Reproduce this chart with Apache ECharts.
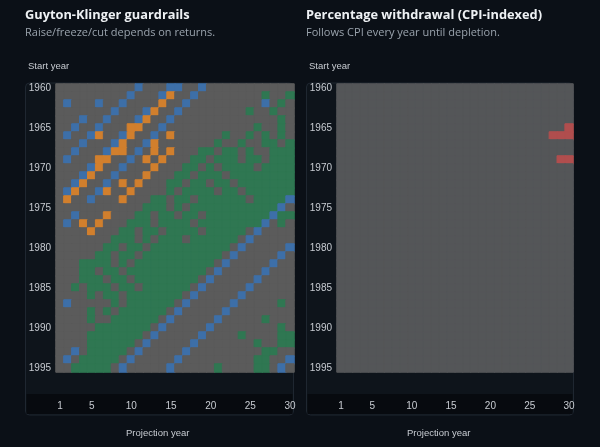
<!DOCTYPE html>
<html><head><meta charset="utf-8">
<script src="https://cdn.jsdelivr.net/npm/echarts@6/dist/echarts.min.js"></script>
<style>html,body{margin:0;padding:0;background:#0b1017;}#c{width:600px;height:447px;}</style>
</head><body><div id="c"></div>
<script>
const years = []; for (let y = 1960; y <= 1995; y++) years.push(String(y));
const projYears = []; for (let i = 1; i <= 30; i++) projYears.push(String(i));
// Left panel cell states per start-year row: list of columns for each state
const gkBlue = [[11,15,16,19],[10,14,18],[2,6,9,17,27],[8,12,16],[4,7,11,15],[3,6,14],[2,5,9,13],[4,8,12],[3,7,11],[2,10],[5,9],[4,8],[3,7],[2,6],[5,30],[29],[3,28],[2,27],[26],[25],[24,30],[23,29],[22,28],[21,27],[20,26],[19,25],[18,24],[2,17,23],[16,22],[15,21],[14,20],[13,19],[12,18],[3,11,17],[2,10,16,30],[9,15,29]];
const gkOrange = [[],[15],[14],[13],[12],[10,11],[6,10,15],[9,13],[8,9,13,15],[6,7,12,14],[6,13],[5,12],[4,9,11],[3,7,10],[2,9],[],[7],[4,6],[5],[],[],[],[],[],[],[],[],[],[],[],[],[],[],[],[],[]];
const gkGreen = [[],[27,30],[29],[25,28],[29],[26,29],[22,25,27,29],[21,24,27,28,30],[19,20,22,23,25,28,29,30],
[18,19,21,22,23,25,26,28,29,30],[17,18,20,22,23,24,25,27,28,29,30],[16,17,19,20,21,23,24,25,26,27,28,29,30],
[15,16,18,19,21,22,24,25,26,27,28,29,30],[15,17,18,19,20,22,23,25,26,27,28,29,30],[13,14,16,17,19,20,21,22,23,24,26,27,28,29],
[12,13,14,16,18,19,20,21,22,23,24,25,26,27,28],[11,12,14,15,17,18,20,21,22,23,24,25,26,27,29,30],
[10,11,12,14,15,16,17,19,20,21,22,23,24,25,26,29],[9,10,12,13,15,16,17,18,20,21,22,23,24],
[8,9,10,12,14,15,16,18,19,20,21,22,23],[7,8,10,11,13,14,15,16,17,18,19,20,21,22],[6,7,9,10,12,13,14,15,16,17,18,19,20,21],
[4,5,6,7,9,11,12,13,14,15,16,17,18,19,20],[4,5,7,8,10,11,12,13,14,15,16,17,18,19],[4,5,6,8,9,11,12,13,14,15,16,17,18],
[3,5,6,7,9,10,12,13,14,15,16,17],[5,7,8,10,11,12,13,14,15,16],[8,10,11,12,13,14,15,29],[5,7,9,10,11,12,13,14],
[5,8,9,10,11,12,13,27],[6,7,8,9,10,11,12,29],[5,6,7,8,9,10,11,24,29,30],[5,6,7,8,9,10,26,29,30],[5,6,7,8,9,27,28],
[4,5,6,7,8,26,27],[3,4,5,6,7,21,26,27]];
// Right panel: depleted cells
const cpiRed = {5:[30],6:[28,29,30],9:[29,30]};

const C = {gray:'#5b5b5b', gray2:'#545658', blue:'#3d6fa8', orange:'#d17f2d', green:'#2f7752', red:'#b04e4e'};
function cell(c,r,col){return {value:[c-1,r,0],itemStyle:{color:col,borderColor:col,borderWidth:1}};}
function leftData(){
  const d=[];
  for(let r=0;r<36;r++)for(let c=1;c<=30;c++){
    let col=C.gray;
    if(gkGreen[r].includes(c))col=C.green;
    if(gkOrange[r].includes(c))col=C.orange;
    if(gkBlue[r].includes(c))col=C.blue;
    d.push(cell(c,r,col));
  }
  return d;
}
function rightData(){
  const d=[];
  for(let r=0;r<36;r++)for(let c=1;c<=30;c++){
    const red=cpiRed[r]&&cpiRed[r].includes(c);
    d.push(cell(c,r,red?C.red:C.gray2));
  }
  return d;
}
const chart=echarts.init(document.getElementById('c'));
const xAx=(i)=>({type:'category',gridIndex:i,data:projYears,axisLine:{show:false},axisTick:{show:false},splitLine:{show:false},
  axisLabel:{color:'#c8ccd2',fontSize:10,margin:29,interval:(idx,v)=>v==='1'||(+v)%5===0}});
const yAx=(i)=>({type:'category',gridIndex:i,data:years,inverse:true,axisLine:{show:false},axisTick:{show:false},splitLine:{show:false},
  axisLabel:{color:'#c8ccd2',fontSize:10,margin:5,interval:(idx)=>idx%5===0}});
function panel(x,w){return [
  {type:'rect',shape:{x:x,y:83,width:w,height:332,r:4},style:{fill:'#0e141b',stroke:'#1f2731',lineWidth:1},z:-10},
  {type:'rect',shape:{x:x+1,y:394,width:w-2,height:20},style:{fill:'#070a0f'},z:-9}
];}
const tStyle={color:'#eef1f4',fontSize:12.8,fontWeight:'bold',fontFamily:'Open Sans'};
const sStyle={color:'#9aa3ad',fontSize:11,fontFamily:'Open Sans'};
chart.setOption({
  backgroundColor:'#0b1017',
  animation:false,
  title:[
    {text:'Guyton-Klinger guardrails',subtext:'Raise/freeze/cut depends on returns.',left:20,top:4,itemGap:5,textStyle:tStyle,subtextStyle:sStyle},
    {text:'Percentage withdrawal (CPI-indexed)',subtext:'Follows CPI every year until depletion.',left:301,top:4,itemGap:5,textStyle:tStyle,subtextStyle:sStyle}
  ],
  graphic:[...panel(25.5,268),...panel(306.5,267),
    {type:'text',left:28,top:61,style:{text:'Start year',fill:'#c8ccd2',fontSize:9.5}},
    {type:'text',left:309,top:61,style:{text:'Start year',fill:'#c8ccd2',fontSize:9.5}},
    {type:'text',left:126,top:428,style:{text:'Projection year',fill:'#c8ccd2',fontSize:9.5}},
    {type:'text',left:407,top:428,style:{text:'Projection year',fill:'#c8ccd2',fontSize:9.5}}
  ],
  grid:[{left:56,top:84,width:238,height:288},{left:337,top:84,width:236,height:288}],
  xAxis:[xAx(0),xAx(1)],
  yAxis:[yAx(0),yAx(1)],
  series:[
    {type:'heatmap',xAxisIndex:0,yAxisIndex:0,data:leftData(),z:5},
    {type:'heatmap',xAxisIndex:1,yAxisIndex:1,data:rightData(),z:5}
  ]
});
</script></body></html>
